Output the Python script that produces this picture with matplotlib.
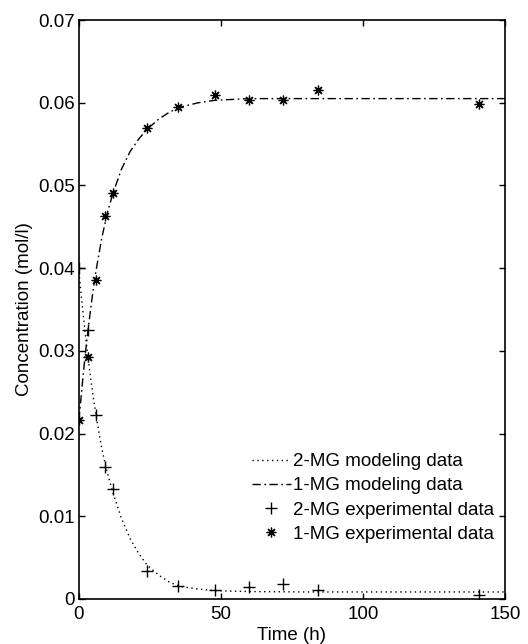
import matplotlib
matplotlib.use("Agg")
import matplotlib.pyplot as plt
import numpy as np

# model curves
t_model = [0, 1, 2, 3, 4, 5, 6, 8, 10, 12, 15, 18, 21, 24, 28, 32, 36, 42, 48, 60, 80, 150]
mg2_model = [0.0395, 0.0360, 0.0327, 0.0297, 0.0270, 0.0245, 0.0222, 0.0182, 0.0152, 0.0128,
             0.0097, 0.0073, 0.0055, 0.0041, 0.0029, 0.0020, 0.0015, 0.0012, 0.0010, 0.0009,
             0.00085, 0.00085]
mg1_model = [0.0216, 0.0254, 0.0289, 0.0320, 0.0348, 0.0374, 0.0397, 0.0436, 0.0467, 0.0491,
             0.0520, 0.0541, 0.0556, 0.0568, 0.0580, 0.0589, 0.0595, 0.0600, 0.0603, 0.0605,
             0.0605, 0.0605]

# experimental points
t_exp = [0, 3, 6, 9, 12, 24, 35, 48, 60, 72, 84, 141]
mg2_exp = [0.0400, 0.0325, 0.0222, 0.0159, 0.0133, 0.0034, 0.0016, 0.0011, 0.0015, 0.0018, 0.0011, 0.0005]
mg1_exp = [0.0216, 0.0292, 0.0386, 0.0463, 0.0491, 0.0570, 0.0595, 0.0609, 0.0603, 0.0603, 0.0615, 0.0599]

plt.rcParams['font.family'] = ['Liberation Sans', 'DejaVu Sans']

fig = plt.figure(figsize=(5.28, 6.44), dpi=100)
ax = fig.add_axes([0.1496, 0.0699, 0.8068, 0.8990])

ax.plot(t_model, mg2_model, color='black', lw=1.0, linestyle=(0, (1, 2.5)), label='2-MG modeling data')
ax.plot(t_model, mg1_model, color='black', lw=1.0, linestyle=(0, (6, 2.5, 1.2, 2.5)), label='1-MG modeling data')
ax.plot(t_exp, mg2_exp, linestyle='none', marker='+', ms=8, mew=1.0, color='black', label='2-MG experimental data')
ax.plot(t_exp, mg1_exp, linestyle='none', marker=(8, 2, 0), ms=7, mew=0.9, color='black', label='1-MG experimental data')

ax.set_xlim(0, 150)
ax.set_ylim(0, 0.07)
ax.set_xticks([0, 50, 100, 150])
ax.set_yticks(np.arange(0, 0.071, 0.01))
ax.set_yticklabels(['0', '0.01', '0.02', '0.03', '0.04', '0.05', '0.06', '0.07'])
ax.tick_params(direction='in', top=True, right=True, length=4, width=1, labelsize=13.5)
ax.tick_params(axis='x', pad=5)
ax.tick_params(axis='y', pad=3)
for s in ax.spines.values():
    s.set_linewidth(1.2)

ax.set_xlabel('Time (h)', fontsize=13.5, labelpad=3)
ax.set_ylabel('Concentration (mol/l)', fontsize=13.5, labelpad=4)

ax.legend(loc='lower right', bbox_to_anchor=(0.975, 0.097), frameon=False, fontsize=13.5,
          handlelength=2.1, handletextpad=0.12, labelspacing=0.38, borderpad=0, borderaxespad=0)

fig.savefig('out.png', dpi=100)
